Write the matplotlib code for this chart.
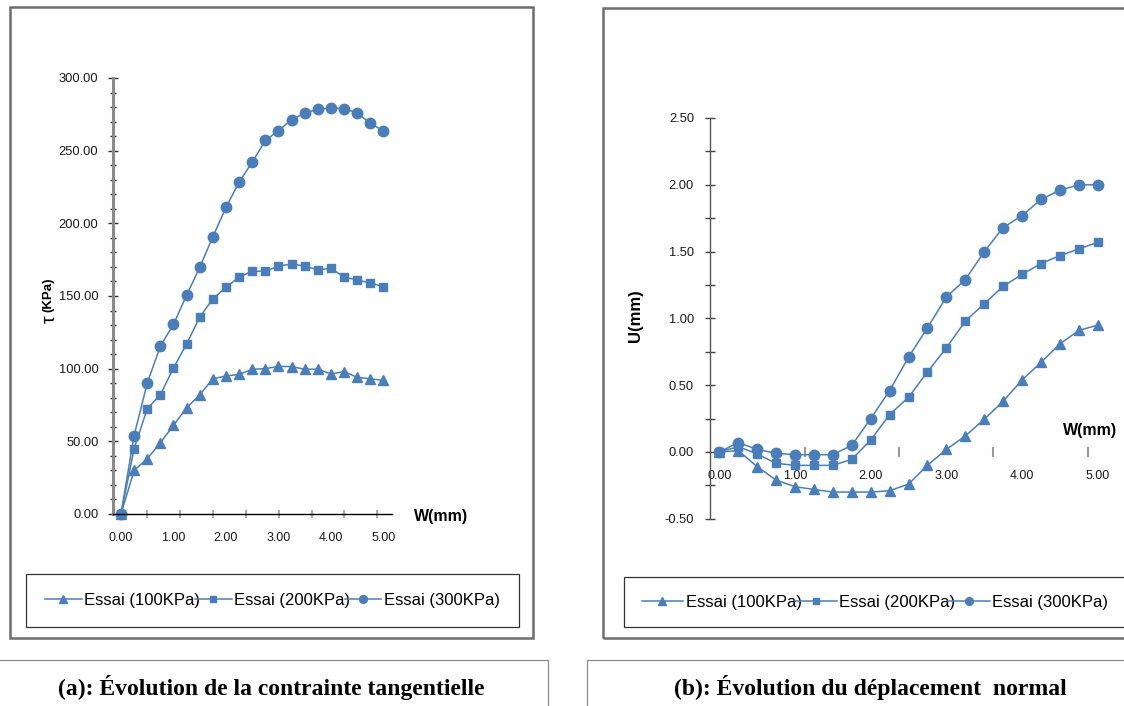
import numpy as np
import matplotlib.pyplot as plt
from matplotlib.patches import Rectangle

plt.rcParams['font.family'] = ['Liberation Sans', 'DejaVu Sans']

FW, FH = 1124, 706

# displacement W (mm)
W = [0.00, 0.25, 0.50, 0.75, 1.00, 1.25, 1.50, 1.75, 2.00, 2.25, 2.50,
     2.75, 3.00, 3.25, 3.50, 3.75, 4.00, 4.25, 4.50, 4.75, 5.00]

# shear stress tau (KPa)
tau_100 = [0, 30, 38, 49, 61, 73, 82, 93, 95, 96, 99.6,
           100, 101.6, 101.4, 99.6, 99.6, 96.3, 98, 94, 93, 92]
tau_200 = [0, 45, 72.5, 82, 100.5, 117, 135.5, 148, 156, 163, 167,
           167, 170.6, 172, 170.6, 168, 169, 163, 161, 159, 156.4]
tau_300 = [0, 54, 90, 115.5, 130.5, 150.5, 169.7, 190.8, 211, 228.4, 242,
           257, 263.8, 271.3, 275.7, 278.5, 279.4, 278.9, 275.9, 268.8, 263.5]

# normal displacement U (mm)
U_100 = [0.00, 0.01, -0.11, -0.21, -0.26, -0.28, -0.30, -0.30, -0.30, -0.29, -0.24,
         -0.10, 0.02, 0.12, 0.245, 0.38, 0.54, 0.67, 0.81, 0.91, 0.95]
U_200 = [0.00, 0.04, -0.015, -0.085, -0.10, -0.10, -0.10, -0.055, 0.09, 0.28, 0.41,
         0.60, 0.78, 0.98, 1.11, 1.24, 1.33, 1.41, 1.47, 1.52, 1.57]
U_300 = [0.00, 0.07, 0.02, -0.01, -0.02, -0.02, -0.02, 0.05, 0.25, 0.46, 0.71,
         0.93, 1.16, 1.29, 1.50, 1.68, 1.77, 1.89, 1.96, 2.00, 2.00]

labels = ['Essai (100KPa)', 'Essai (200KPa)', 'Essai (300KPa)']
markers = ['^', 's', 'o']
sizes = [7, 6, 7.5]
blue = '#4a7ebb'

tau_ticks = [0, 50, 100, 150, 200, 250, 300]
u_ticks = [-0.5, 0.0, 0.5, 1.0, 1.5, 2.0, 2.5]
w_labels = [0, 1, 2, 3, 4, 5]
w_marks_a = [0.505, 1.13, 1.755, 2.38, 3.005, 3.63, 4.255, 4.88]
w_marks_b = [1.13, 2.37, 3.62, 4.87]


def fbox(x0, y0, x1, y1):
    return [x0 / FW, 1 - y1 / FH, (x1 - x0) / FW, (y1 - y0) / FH]


def rect(x0, y0, x1, y1, ec, lw):
    b = fbox(x0, y0, x1, y1)
    fig.add_artist(Rectangle((b[0], b[1]), b[2], b[3], transform=fig.transFigure,
                             fill=False, ec=ec, lw=lw, zorder=0))


def ftext(x, y, s, **kw):
    fig.text(x / FW, 1 - y / FH, s, **kw)


fig = plt.figure(figsize=(FW / 100, FH / 100), dpi=100)

# frames and caption boxes
rect(10, 7, 533, 638, '#6d6d6d', 1.8)
rect(603, 8, 1140, 638, '#6d6d6d', 1.8)
rect(-5, 660, 548, 720, '#8a8a8a', 0.9)
rect(587, 660, 1140, 720, '#8a8a8a', 0.9)

# ---- (a) shear stress
ax1 = fig.add_axes(fbox(113, 78, 392, 514))
for ys, m, ms, lab in zip([tau_100, tau_200, tau_300], markers, sizes, labels):
    ax1.plot(W, ys, marker=m, ms=ms, color=blue, lw=1.1, clip_on=False, label=lab)
ax1.set_xlim(-0.152, 5.162)
ax1.set_ylim(0, 300)
ax1.spines['top'].set_visible(False)
ax1.spines['right'].set_visible(False)
ax1.spines['left'].set_color('#8a8a8a')
ax1.spines['left'].set_linewidth(2.2)
ax1.spines['bottom'].set_color('black')
ax1.spines['bottom'].set_linewidth(1.0)
ax1.set_yticks(tau_ticks)
ax1.set_yticklabels([f'{v:.2f}' for v in tau_ticks])
ax1.set_yticks(np.arange(0, 301, 10), minor=True)
ax1.tick_params(axis='y', which='major', direction='inout', length=7, width=1,
                color='#333333', pad=7, labelsize=9.3, labelcolor='#1a1a1a')
ax1.tick_params(axis='y', which='minor', direction='inout', length=4, width=1,
                color='#333333')
ax1.set_xticks(w_labels)
ax1.set_xticklabels([f'{v:.2f}' for v in w_labels])
ax1.set_xticks(w_marks_a, minor=True)
ax1.tick_params(axis='x', which='major', length=0, pad=13, labelsize=9,
                labelcolor='#1a1a1a')
ax1.tick_params(axis='x', which='minor', direction='inout', length=6, width=1.2,
                color='#999999')
ftext(441, 516, 'W(mm)', fontsize=11.5, fontweight='bold', ha='center', va='center')
ftext(50, 319, 'τ', fontsize=14, rotation=90, ha='center', va='center')
ftext(48, 295, '(KPa)', fontsize=9.5, fontweight='bold', rotation=90,
      ha='center', va='center')

h1, l1 = ax1.get_legend_handles_labels()
fig.legend(h1, l1, loc='lower left', bbox_to_anchor=fbox(26, 575, 519, 627),
           mode='expand', ncol=3, frameon=True, fancybox=False, edgecolor='black',
           borderaxespad=0, handlelength=2.2, handletextpad=0.15, columnspacing=0.1,
           markerscale=0.75, fontsize=12, borderpad=1.15).get_frame().set_linewidth(0.9)

# ---- (b) normal displacement
ax2 = fig.add_axes(fbox(710, 118, 1105, 518.8))
for ys, m, ms, lab in zip([U_100, U_200, U_300], markers, sizes, labels):
    ax2.plot(W, ys, marker=m, ms=ms, color=blue, lw=1.1, clip_on=False, label=lab)
ax2.set_xlim(-0.123, 5.095)
ax2.set_ylim(-0.5, 2.5)
ax2.spines['top'].set_visible(False)
ax2.spines['right'].set_visible(False)
ax2.spines['left'].set_color('#555555')
ax2.spines['left'].set_linewidth(1.0)
ax2.spines['bottom'].set_position(('data', 0))
ax2.spines['bottom'].set_linewidth(0)
ax2.set_yticks(u_ticks)
ax2.set_yticklabels([f'{v:.2f}' for v in u_ticks])
ax2.set_yticks(np.arange(-0.5, 2.51, 0.25), minor=True)
ax2.tick_params(axis='y', which='both', direction='inout', length=7, width=1,
                color='#444444', pad=8, labelsize=9.3, labelcolor='#1a1a1a')
ax2.set_xticks(w_labels)
ax2.set_xticklabels([f'{v:.2f}' for v in w_labels])
ax2.set_xticks(w_marks_b, minor=True)
ax2.tick_params(axis='x', which='major', length=0, pad=13, labelsize=9,
                labelcolor='#1a1a1a')
ax2.tick_params(axis='x', which='minor', direction='inout', length=7, width=1.5,
                color='#999999')
ftext(1090, 430, 'W(mm)', fontsize=11.5, fontweight='bold', ha='center', va='center')
ftext(636, 316, 'U(mm)', fontsize=12, fontweight='semibold', rotation=90,
      ha='center', va='center')

h2, l2 = ax2.get_legend_handles_labels()
fig.legend(h2, l2, loc='lower left', bbox_to_anchor=fbox(624, 577, 1126, 627),
           mode='expand', ncol=3, frameon=True, fancybox=False, edgecolor='black',
           borderaxespad=0, handlelength=2.5, handletextpad=0.15, columnspacing=0.1,
           markerscale=0.75, fontsize=12, borderpad=1.05).get_frame().set_linewidth(0.9)

# captions
ftext(271, 688, '(a): Évolution de la contrainte tangentielle', fontsize=17,
      fontweight='bold', family='Liberation Serif', ha='center', va='center')
ftext(870, 688, '(b): Évolution du déplacement  normal', fontsize=17,
      fontweight='bold', family='Liberation Serif', ha='center', va='center')

fig.savefig('out.png', dpi=100)
